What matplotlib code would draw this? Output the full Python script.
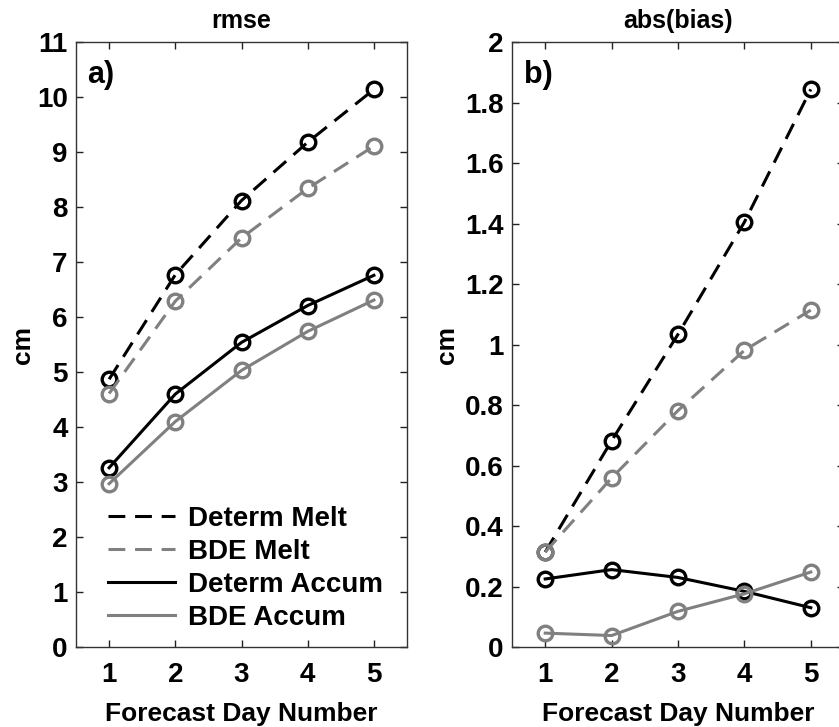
import matplotlib
matplotlib.use("Agg")
import matplotlib.pyplot as plt
from matplotlib.lines import Line2D

plt.rcParams['font.family'] = ['Liberation Sans', 'DejaVu Sans']
plt.rcParams['font.weight'] = 'bold'

days = [1, 2, 3, 4, 5]
series_names = ["Determ Melt", "BDE Melt", "Determ Accum", "BDE Accum"]

# panel a) rmse
rmse_determ_melt = [4.87, 6.77, 8.12, 9.18, 10.14]
rmse_bde_melt = [4.61, 6.29, 7.44, 8.34, 9.11]
rmse_determ_accum = [3.26, 4.60, 5.54, 6.21, 6.76]
rmse_bde_accum = [2.97, 4.10, 5.03, 5.74, 6.31]

# panel b) abs(bias)
bias_determ_melt = [0.314, 0.682, 1.034, 1.405, 1.844]
bias_bde_melt = [0.314, 0.559, 0.782, 0.981, 1.114]
bias_determ_accum = [0.225, 0.256, 0.230, 0.184, 0.130]
bias_bde_accum = [0.046, 0.038, 0.118, 0.176, 0.248]

gray = '#808080'
dash = (0, (5.5, 3.2))
styles = [('k', dash), (gray, dash), ('k', '-'), (gray, '-')]

fig = plt.figure(figsize=(8.39, 7.27), dpi=100)
ax1 = fig.add_axes([76 / 839, 0.110, 331 / 839, 0.832])
ax2 = fig.add_axes([512 / 839, 0.110, 332 / 839, 0.832])


def draw(ax, data, title, ylim, yticks, yticklabels, letter, ylab_x):
    for vals, (c, ls) in zip(data, styles):
        ax.plot(days, vals, color=c, linestyle=ls, linewidth=2.2,
                marker='o', markersize=10.5, markerfacecolor='none',
                markeredgewidth=2.4, markeredgecolor=c)
    ax.set_xlim(0.5, 5.5)
    ax.set_ylim(*ylim)
    ax.set_xticks(days)
    ax.set_yticks(yticks)
    ax.set_yticklabels(yticklabels)
    ax.tick_params(direction='in', length=5, width=1, top=True, right=True,
                   labelsize=20, colors='#222222', labelcolor='k')
    ax.tick_params(axis='x', pad=11)
    ax.tick_params(axis='y', pad=6)
    for lab in ax.get_xticklabels() + ax.get_yticklabels():
        lab.set_fontweight('bold')
    for s in ax.spines.values():
        s.set_linewidth(1.0)
        s.set_color('#333333')
    ax.set_title(title, fontsize=18, fontweight='bold', pad=10)
    ax.set_xlabel('Forecast Day Number', fontsize=19, fontweight='bold', labelpad=10)
    ax.set_ylabel('cm', fontsize=19, fontweight='bold')
    ax.yaxis.set_label_coords(ylab_x, 0.5)
    ax.text(0.035, 0.933, letter, transform=ax.transAxes, fontsize=22,
            fontweight='bold', va='baseline', ha='left')


draw(ax1, [rmse_determ_melt, rmse_bde_melt, rmse_determ_accum, rmse_bde_accum],
     'rmse', (0, 11), range(0, 12), [str(v) for v in range(0, 12)], 'a)', -0.125)

bias_ticks = [0, 0.2, 0.4, 0.6, 0.8, 1.0, 1.2, 1.4, 1.6, 1.8, 2.0]
bias_labels = ['0', '0.2', '0.4', '0.6', '0.8', '1', '1.2', '1.4', '1.6', '1.8', '2']
draw(ax2, [bias_determ_melt, bias_bde_melt, bias_determ_accum, bias_bde_accum],
     'abs(bias)', (0, 2), bias_ticks, bias_labels, 'b)', -0.16)

handles = [Line2D([], [], color=c, linestyle=ls, linewidth=2.2) for c, ls in styles]
leg = ax1.legend(handles, series_names, loc='lower left', bbox_to_anchor=(0.097, 0.027),
                 frameon=False, fontsize=20, handlelength=2.4, handletextpad=0.47,
                 labelspacing=0.25, borderaxespad=0, borderpad=0)
for t in leg.get_texts():
    t.set_fontweight('bold')

fig.savefig('out.png', dpi=100)
